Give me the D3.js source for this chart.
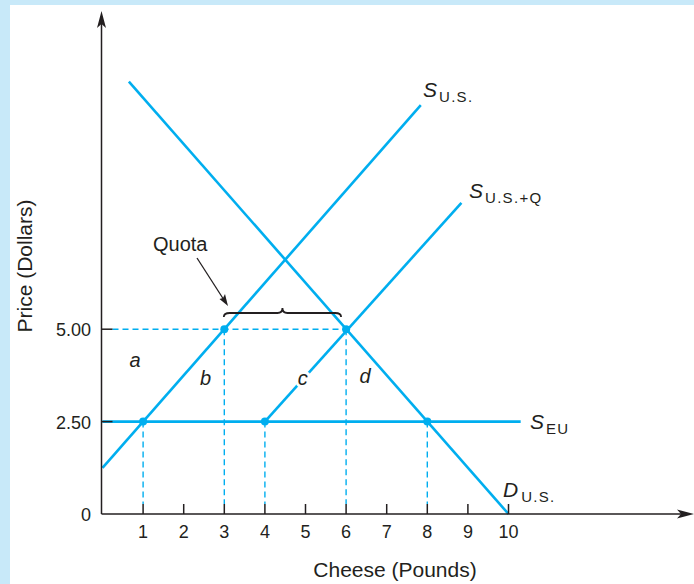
<!DOCTYPE html>
<html>
<head>
<meta charset="utf-8">
<script src="https://cdn.jsdelivr.net/npm/d3@7"></script>
<style>
  html, body { margin: 0; padding: 0; background: #fff; }
  svg { display: block; }
  text { font-family: "Liberation Sans", Arial, Helvetica, sans-serif; fill: #231f20; }
</style>
</head>
<body>
<svg id="chart" width="694" height="584"></svg>
<script>
// Axis ticks
const quantityTicks = [1, 2, 3, 4, 5, 6, 7, 8, 9, 10];
const priceTicks = [0, 2.5, 5];
const priceTickLabels = ["0", "2.50", "5.00"];

// Curves: [quantity, price] end points
const demandUS = [[0.65, 11.7], [10, 0]];
const supplyUS = [[0, 1.25], [7.84, 11.06]];
const supplyUSQ = [[4, 2.5], [8.84, 8.42]];
const supplyEU = [[0, 2.5], [10.3, 2.5]];

// Marked equilibria / intersections
const keyPoints = [[1, 2.5], [3, 5], [4, 2.5], [6, 5], [8, 2.5]];
// Horizontal guide at the domestic price under the quota
const priceGuide = [[0, 5], [6, 5]];

// Area labels (baseline positions)
const areaLabels = [
  { t: "a", q: 0.8, p: 3.98, halo: false },
  { t: "b", q: 2.54, p: 3.49, halo: false },
  { t: "c", q: 4.93, p: 3.49, halo: true },
  { t: "d", q: 6.47, p: 3.54, halo: false }
];

const blue = "#00aeef";
const svg = d3.select("#chart");

// Background frame
svg.append("rect").attr("x", 0).attr("y", 0).attr("width", 694).attr("height", 584).attr("fill", "#c8e9f9");
svg.append("rect").attr("x", 10).attr("y", 5).attr("width", 684).attr("height", 579).attr("fill", "#ffffff");

const x = d3.scaleLinear().domain([0, 10]).range([102.5, 508.5]);
const y = d3.scaleLinear().domain([0, 5]).range([514, 329.2]);
const line = d3.line().x(d => x(d[0])).y(d => y(d[1]));

const axisX0 = 101.5, axisY0 = 514;

// Dashed guides
const g = svg.append("g");
g.append("path").datum(priceGuide)
  .attr("d", d => `M${axisX0 + 11},${y(d[0][1])}H${x(d[1][0])}`)
  .attr("stroke", blue).attr("stroke-width", 1.4).attr("stroke-dasharray", "6,4").attr("fill", "none");
g.selectAll("line.vg").data(keyPoints).join("line").attr("class", "vg")
  .attr("x1", d => x(d[0])).attr("x2", d => x(d[0]))
  .attr("y1", d => y(d[1])).attr("y2", axisY0 - 10)
  .attr("stroke", blue).attr("stroke-width", 1.4).attr("stroke-dasharray", "6,4");

// Curves
[demandUS, supplyUS, supplyUSQ, supplyEU].forEach(c => {
  svg.append("path").datum(c).attr("d", line)
    .attr("stroke", blue).attr("stroke-width", 2.6).attr("fill", "none");
});

// Points
svg.selectAll("circle.kp").data(keyPoints).join("circle").attr("class", "kp")
  .attr("cx", d => x(d[0])).attr("cy", d => y(d[1])).attr("r", 4)
  .attr("fill", blue);

// Axes
const axes = svg.append("g").attr("stroke", "#231f20").attr("stroke-width", 1.5);
axes.append("line").attr("x1", axisX0).attr("x2", axisX0).attr("y1", axisY0).attr("y2", 22);
axes.append("line").attr("x1", axisX0).attr("x2", 684).attr("y1", axisY0).attr("y2", axisY0);
svg.append("path").attr("d", `M${axisX0},11 L${axisX0 - 4.5},28 L${axisX0},24 L${axisX0 + 4.5},28 Z`).attr("fill", "#231f20");
svg.append("path").attr("d", `M694,${axisY0} L677,${axisY0 - 4.5} L681,${axisY0} L677,${axisY0 + 4.5} Z`).attr("fill", "#231f20");

// X ticks (inward)
axes.selectAll("line.xt").data(quantityTicks).join("line").attr("class", "xt")
  .attr("x1", d => x(d)).attr("x2", d => x(d)).attr("y1", axisY0).attr("y2", axisY0 - 10);
// Y ticks (inward)
axes.selectAll("line.yt").data(priceTicks.filter(d => d > 0)).join("line").attr("class", "yt")
  .attr("x1", axisX0).attr("x2", axisX0 + 11).attr("y1", d => y(d)).attr("y2", d => y(d));

// Tick labels
svg.selectAll("text.xl").data(quantityTicks).join("text").attr("class", "xl")
  .attr("x", d => x(d)).attr("y", 538).attr("text-anchor", "middle")
  .attr("font-size", 18).text(d => d);
svg.selectAll("text.yl").data(priceTicks).join("text").attr("class", "yl")
  .attr("x", 91).attr("y", d => y(d) + 7).attr("text-anchor", "end")
  .attr("font-size", 18).text((d, i) => priceTickLabels[i]);

// Axis titles
svg.append("text").attr("x", 395).attr("y", 577).attr("text-anchor", "middle")
  .attr("font-size", 21).text("Cheese (Pounds)");
svg.append("text").attr("transform", "translate(32,266) rotate(-90)").attr("text-anchor", "middle")
  .attr("font-size", 21).text("Price (Dollars)");

// Curve labels with subscripts
function curveLabel(px, py, main, sub, subDx) {
  const t = svg.append("text").attr("x", px).attr("y", py);
  t.append("tspan").attr("font-size", 21).attr("font-style", "italic").text(main);
  t.append("tspan").attr("font-size", 15).attr("letter-spacing", 1.3)
    .attr("dx", subDx).attr("dy", 5).text(sub);
}
curveLabel(423, 97, "S", "U.S.", 2);
curveLabel(469, 198, "S", "U.S.+Q", 2);
curveLabel(530, 429, "S", "EU", 2);
curveLabel(503, 497, "D", "U.S.", 3);

// Area labels
svg.selectAll("text.al").data(areaLabels).join("text").attr("class", "al")
  .attr("x", d => x(d.q)).attr("y", d => y(d.p)).attr("text-anchor", "middle")
  .attr("font-size", 20).attr("font-style", "italic")
  .attr("stroke", d => d.halo ? "#ffffff" : "none").attr("stroke-width", 6)
  .attr("paint-order", "stroke")
  .text(d => d.t);

// Quota annotation
svg.append("text").attr("x", 153).attr("y", 251).attr("font-size", 20).text("Quota");
svg.append("line").attr("x1", 197).attr("y1", 258).attr("x2", 224).attr("y2", 300)
  .attr("stroke", "#231f20").attr("stroke-width", 1.3);
svg.append("path").attr("d", "M228,306 L219.5,299 L223,298 L225,294 Z").attr("fill", "#231f20");

// Brace spanning the quota quantity
const bx0 = x(3) - 0.5, bx1 = x(6) - 5, bm = (bx0 + bx1) / 2, by = 313;
svg.append("path")
  .attr("d", `M${bx0},${by + 4} Q${bx0},${by} ${bx0 + 6},${by} L${bm - 5},${by} Q${bm},${by} ${bm},${by - 5} Q${bm},${by} ${bm + 5},${by} L${bx1 - 6},${by} Q${bx1},${by} ${bx1},${by + 4}`)
  .attr("stroke", "#231f20").attr("stroke-width", 1.8).attr("fill", "none");
</script>
</body>
</html>
